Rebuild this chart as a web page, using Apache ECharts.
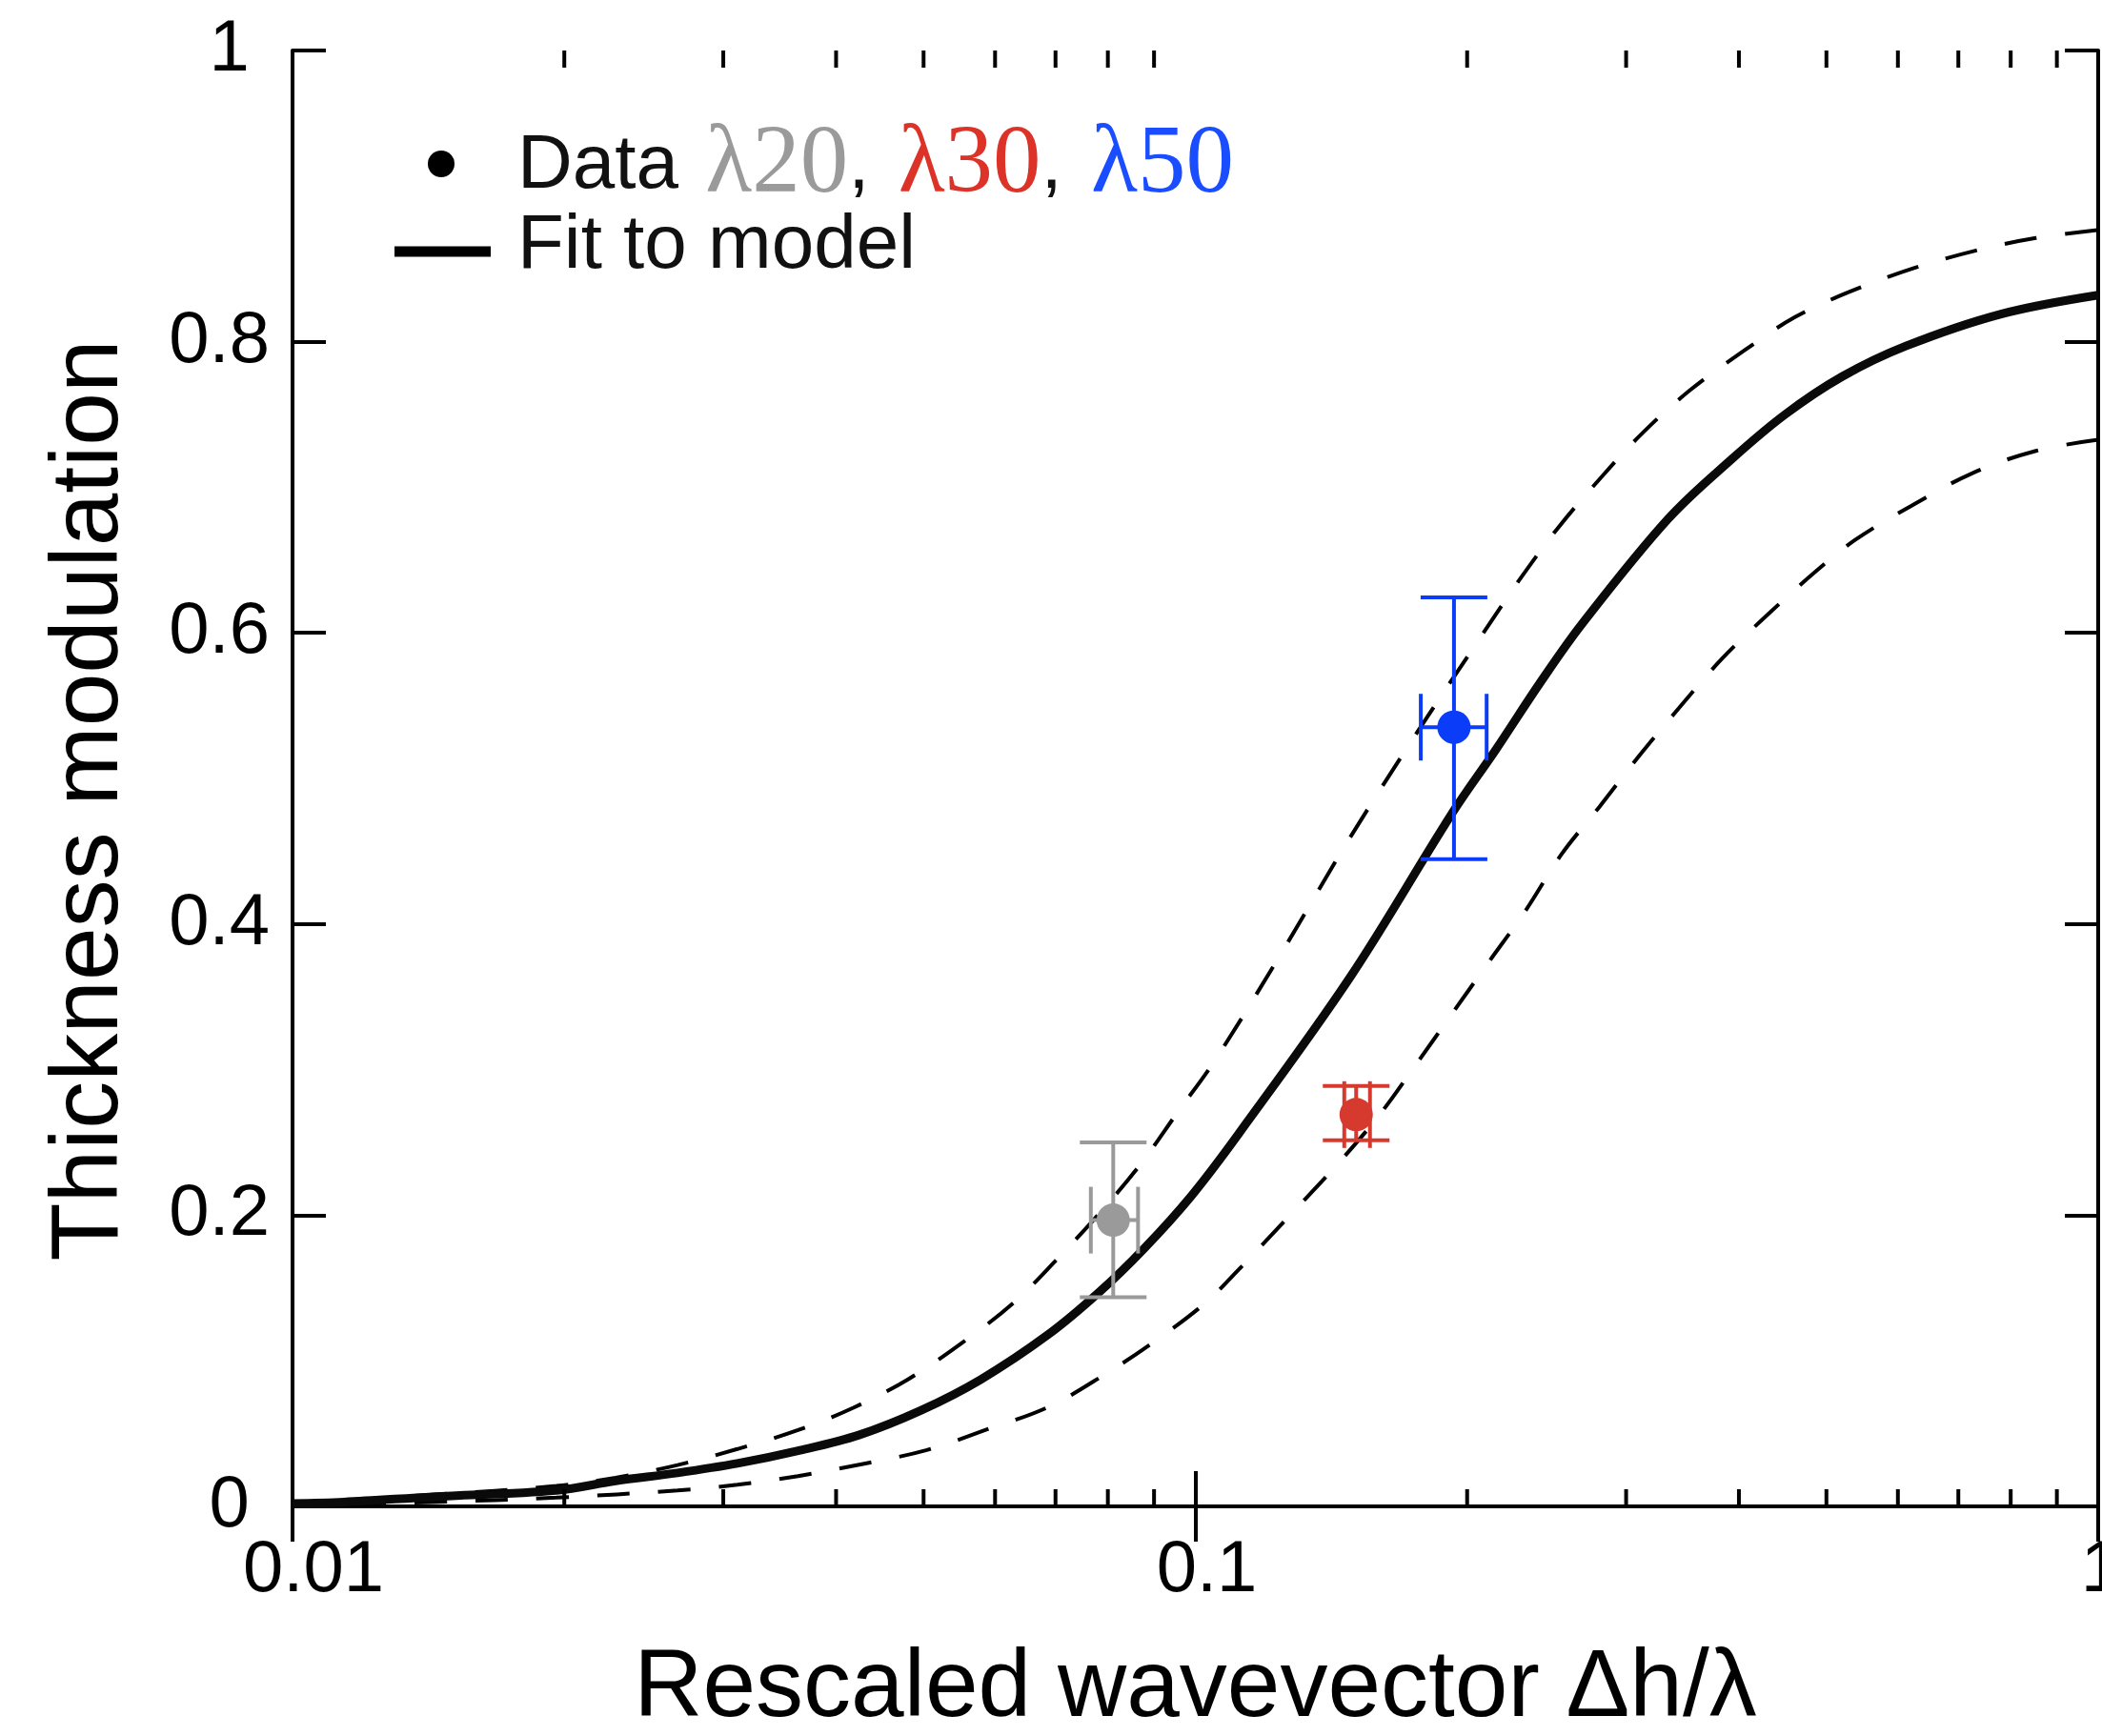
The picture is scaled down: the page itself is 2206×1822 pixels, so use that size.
<!DOCTYPE html>
<html>
<head>
<meta charset="utf-8">
<script src="https://cdn.jsdelivr.net/npm/echarts@6/dist/echarts.min.js"></script>
<style>
html,body{margin:0;padding:0;background:#fff;overflow:hidden;}
#chart{width:2206px;height:1822px;}
</style>
</head>
<body>
<div id="chart"></div>
<script>
// ---- Data ----
// Fit to model (solid)
const fitX = [0.01, 0.0114, 0.0143, 0.0196, 0.0228, 0.0267, 0.0311, 0.0363, 0.0424, 0.0497, 0.0578, 0.0687, 0.0782, 0.0877, 0.0989, 0.1117, 0.1486, 0.1929, 0.2153, 0.2411, 0.268, 0.3336, 0.3922, 0.45, 0.5204, 0.6124, 0.7806, 1.0];
const fitY = [0.002, 0.003, 0.0066, 0.011, 0.0175, 0.023, 0.0295, 0.0382, 0.049, 0.066, 0.087, 0.118, 0.147, 0.177, 0.213, 0.256, 0.364, 0.477, 0.520, 0.566, 0.606, 0.678, 0.719, 0.750, 0.776, 0.797, 0.819, 0.832];
// Upper confidence bound (dashed)
const upperX = [0.01, 0.0143, 0.0196, 0.0228, 0.0267, 0.0311, 0.0363, 0.0418, 0.0481, 0.0552, 0.0629, 0.0704, 0.0782, 0.0869, 0.0954, 0.1053, 0.1246, 0.1473, 0.1741, 0.2085, 0.2289, 0.2521, 0.2812, 0.3125, 0.3528, 0.405, 0.461, 0.529, 0.6249, 0.731, 0.853, 1.0];
const upperY = [0.002, 0.008, 0.014, 0.0197, 0.0284, 0.0394, 0.0524, 0.0677, 0.0874, 0.1125, 0.1398, 0.1703, 0.2009, 0.2348, 0.270, 0.3071, 0.3803, 0.4562, 0.527, 0.600, 0.637, 0.672, 0.7065, 0.737, 0.7665, 0.7937, 0.8167, 0.834, 0.8505, 0.8625, 0.8712, 0.8767];
// Lower confidence bound (dashed)
const lowerX = [0.01, 0.0143, 0.0196, 0.0267, 0.0311, 0.0363, 0.0431, 0.0503, 0.0585, 0.0686, 0.0789, 0.0902, 0.1026, 0.1117, 0.1281, 0.1432, 0.16, 0.1758, 0.1929, 0.2116, 0.2323, 0.2545, 0.2802, 0.31, 0.343, 0.3828, 0.4285, 0.4841, 0.538, 0.62, 0.7257, 0.853, 1.0];
const lowerY = [0.001, 0.003, 0.006, 0.011, 0.0149, 0.0208, 0.0295, 0.0385, 0.0524, 0.068, 0.0896, 0.1135, 0.1398, 0.1627, 0.2018, 0.234, 0.2691, 0.3041, 0.3393, 0.3744, 0.4095, 0.448, 0.4804, 0.5154, 0.5481, 0.582, 0.6114, 0.641, 0.6638, 0.687, 0.7097, 0.725, 0.7326];
// Data points λ20, λ30, λ50
const pointNames = ['λ20', 'λ30', 'λ50'];
const pointX = [0.0811, 0.1507, 0.1934];
const pointY = [0.1966, 0.2691, 0.5352];
const xErrLow = [0.0766, 0.1462, 0.1777];
const xErrHigh = [0.0864, 0.1561, 0.2102];
const yErrLow = [0.1437, 0.2515, 0.4445];
const yErrHigh = [0.2500, 0.2887, 0.6244];
const pointColors = ['#9a9a9a', '#d63a2f', '#0b3cf7'];
// Axis ticks
const xTickLabels = ['0.01', '0.1', '1'];
const xMinorTicks = [0.02, 0.03, 0.04, 0.05, 0.06, 0.07, 0.08, 0.09, 0.2, 0.3, 0.4, 0.5, 0.6, 0.7, 0.8, 0.9];

const toXY = (xs, ys) => xs.map((x, i) => [x, ys[i]]);

const chart = echarts.init(document.getElementById('chart'), null, {renderer: 'canvas'});
const SANS = '"Liberation Sans", Arial, sans-serif';
const SERIF = '"Liberation Serif", "Times New Roman", serif';

const pointData = pointX.map((x, i) => ({
  value: [x, pointY[i], xErrLow[i], xErrHigh[i], yErrLow[i], yErrHigh[i]],
  itemStyle: {color: pointColors[i], opacity: 1},
  name: pointNames[i]
}));

function errorBars(params, api) {
  const x = api.value(0), y = api.value(1);
  const xl = api.value(2), xh = api.value(3), yl = api.value(4), yh = api.value(5);
  const color = pointColors[params.dataIndex];
  const pyl = api.coord([x, yl]), pyh = api.coord([x, yh]);
  const pxl = api.coord([xl, y]), pxh = api.coord([xh, y]);
  const cap = 35;
  const st = {stroke: color, lineWidth: 4};
  const mk = (x1, y1, x2, y2) => ({type: 'line', shape: {x1, y1, x2, y2}, style: st});
  return {
    type: 'group',
    children: [
      mk(pyl[0], pyl[1], pyh[0], pyh[1]),
      mk(pyl[0] - cap, pyl[1], pyl[0] + cap, pyl[1]),
      mk(pyh[0] - cap, pyh[1], pyh[0] + cap, pyh[1]),
      mk(pxl[0], pxl[1], pxh[0], pxh[1]),
      mk(pxl[0], pxl[1] - cap, pxl[0], pxl[1] + cap),
      mk(pxh[0], pxh[1] - cap, pxh[0], pxh[1] + cap)
    ]
  };
}

function minorTicks(params, api) {
  const v = api.value(0);
  const b = api.coord([v, 0]);
  const t = api.coord([v, 1]);
  const st = {stroke: '#000', lineWidth: 4};
  return {
    type: 'group',
    children: [
      {type: 'line', shape: {x1: b[0], y1: b[1], x2: b[0], y2: b[1] - 18}, style: st},
      {type: 'line', shape: {x1: t[0], y1: t[1], x2: t[0], y2: t[1] + 18}, style: st}
    ]
  };
}

const axisLineStyle = {show: true, lineStyle: {color: '#000', width: 4}};
const xLabelRich = {
  a: {fontFamily: SANS, fontSize: 76, color: '#000', padding: [0, 0, 0, 44]},
  b: {fontFamily: SANS, fontSize: 76, color: '#000', padding: [0, 0, 0, 24]},
  c: {fontFamily: SANS, fontSize: 76, color: '#000', padding: [0, 0, 0, 6]}
};

const option = {
  backgroundColor: '#fff',
  animation: false,
  grid: {left: 307, right: 4, top: 53, bottom: 241, containLabel: false, outerBoundsMode: 'none'},
  xAxis: [
    {
      type: 'log', logBase: 10, min: 0.01, max: 1,
      position: 'bottom',
      axisLine: axisLineStyle,
      axisTick: {show: true, inside: true, length: 37, lineStyle: {color: '#000', width: 4}},
      axisLabel: {
        show: true, margin: 30, color: '#000', fontFamily: SANS, fontSize: 76,
        showMinLabel: true, showMaxLabel: true, hideOverlap: false,
        rich: xLabelRich,
        formatter: v => (v >= 1 ? '{c|' + xTickLabels[2] + '}' : (v >= 0.1 ? '{b|' + xTickLabels[1] + '}' : '{a|' + xTickLabels[0] + '}'))
      },
      splitLine: {show: false},
      minorTick: {show: false},
      name: 'Rescaled wavevector Δh/λ',
      nameLocation: 'middle',
      nameGap: 142,
      nameTextStyle: {fontFamily: SANS, fontSize: 100, color: '#000'}
    },
    {
      type: 'log', logBase: 10, min: 0.01, max: 1,
      position: 'top',
      axisLine: axisLineStyle,
      axisTick: {show: true, inside: true, length: 37, lineStyle: {color: '#000', width: 4}},
      axisLabel: {show: false},
      splitLine: {show: false}
    }
  ],
  yAxis: [
    {
      type: 'value', min: 0, max: 1, interval: 0.2,
      position: 'left',
      axisLine: axisLineStyle,
      axisTick: {show: true, inside: true, length: 35, lineStyle: {color: '#000', width: 4}},
      axisLabel: {
        show: true, margin: 24, color: '#000', fontFamily: SANS, fontSize: 76,
        formatter: v => {
          const r = Math.round(v * 10) / 10;
          if (r === 0) return '0 ';
          if (r === 1) return '1 ';
          return r.toFixed(1);
        }
      },
      splitLine: {show: false},
      name: 'Thickness modulation',
      nameLocation: 'middle',
      nameGap: 162,
      nameTextStyle: {fontFamily: SANS, fontSize: 100, color: '#000', padding: [0, 46, 0, 0]}
    },
    {
      type: 'value', min: 0, max: 1, interval: 0.2,
      position: 'right',
      axisLine: axisLineStyle,
      axisTick: {show: true, inside: true, length: 35, lineStyle: {color: '#000', width: 4}},
      axisLabel: {show: false},
      splitLine: {show: false}
    }
  ],
  series: [
    {
      name: 'Fit upper bound', type: 'line', xAxisIndex: 0, yAxisIndex: 0,
      data: toXY(upperX, upperY), showSymbol: false, smooth: 0.35,
      lineStyle: {color: '#000', width: 4, type: [34, 30]}, z: 3, silent: true
    },
    {
      name: 'Fit lower bound', type: 'line', xAxisIndex: 0, yAxisIndex: 0,
      data: toXY(lowerX, lowerY), showSymbol: false, smooth: 0.35,
      lineStyle: {color: '#000', width: 4, type: [34, 30]}, z: 3, silent: true
    },
    {
      name: 'Fit to model', type: 'line', xAxisIndex: 0, yAxisIndex: 0,
      data: toXY(fitX, fitY), showSymbol: false, smooth: 0.35,
      lineStyle: {color: '#0a0a0a', width: 9}, z: 3, silent: true
    },
    {
      name: 'Error bars', type: 'custom', xAxisIndex: 0, yAxisIndex: 0,
      renderItem: errorBars, data: pointData, encode: {x: 0, y: 1}, z: 4, clip: false, silent: true
    },
    {
      name: 'Data', type: 'scatter', xAxisIndex: 0, yAxisIndex: 0,
      data: pointData.map(d => ({value: [d.value[0], d.value[1]], itemStyle: d.itemStyle, name: d.name})),
      symbol: 'circle', symbolSize: 35, itemStyle: {opacity: 1}, z: 5, silent: true
    },
    {
      name: 'Minor ticks', type: 'custom', xAxisIndex: 0, yAxisIndex: 0,
      renderItem: minorTicks, data: xMinorTicks.map(v => [v, 0]), encode: {x: 0, y: 1},
      z: 6, clip: false, silent: true
    }
  ],
  graphic: [
    {type: 'circle', shape: {cx: 463, cy: 172, r: 14}, style: {fill: '#000'}, z: 10},
    {
      type: 'text', left: 543, top: 124, z: 10,
      style: {
        text: '{d|Data }{g|λ20}{c|, }{r|λ30}{c|, }{b|λ50}',
        rich: {
          d: {fontFamily: SANS, fontSize: 80, fill: '#111', color: '#111'},
          c: {fontFamily: SANS, fontSize: 80, fill: '#111', color: '#111', padding: [0, 8, 0, 0]},
          g: {fontFamily: SERIF, fontSize: 101, fill: '#9a9a9a', color: '#9a9a9a', padding: [0, 0, 0, 6]},
          r: {fontFamily: SERIF, fontSize: 101, fill: '#dc3228', color: '#dc3228'},
          b: {fontFamily: SERIF, fontSize: 101, fill: '#1a4dff', color: '#1a4dff'}
        }
      }
    },
    {type: 'line', shape: {x1: 414, y1: 264, x2: 515, y2: 264}, style: {stroke: '#000', lineWidth: 11}, z: 10},
    {
      type: 'text', left: 543, top: 219, z: 10,
      style: {text: 'Fit to model', fontFamily: SANS, fontSize: 80, fill: '#111'}
    }
  ]
};
chart.setOption(option);
</script>
</body>
</html>
